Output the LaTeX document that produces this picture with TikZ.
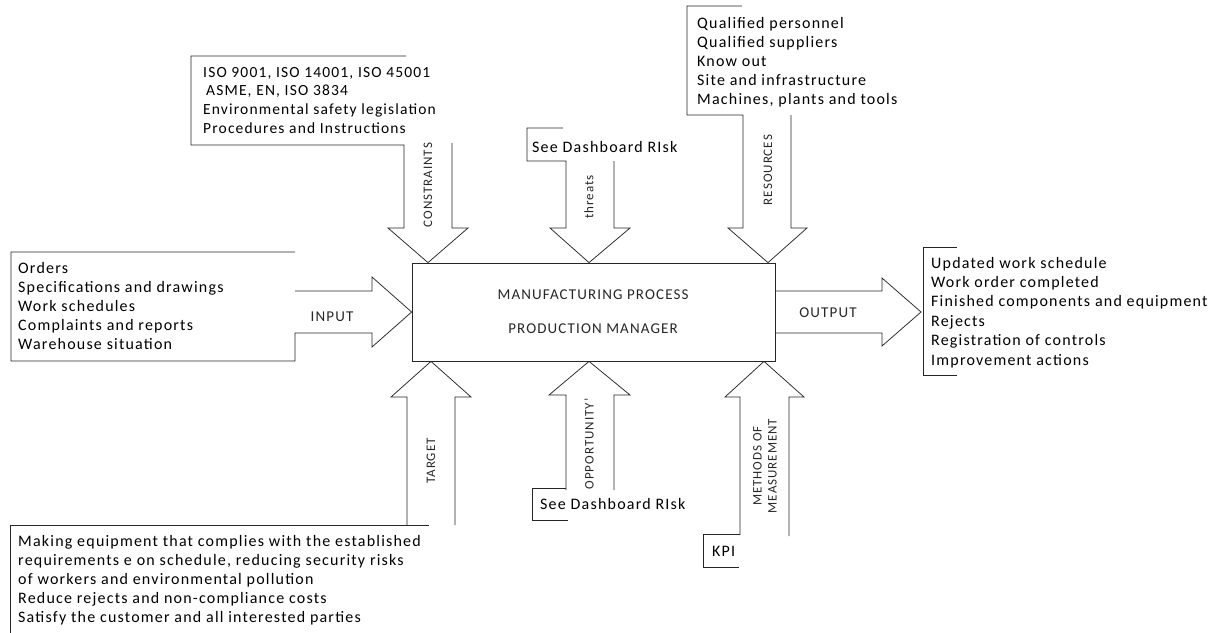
\documentclass[tikz,border=0pt]{standalone}
\usepackage{fontspec}
\setmainfont{Carlito}[LetterSpace=7.5]
\begin{document}
\begin{tikzpicture}[x=1pt,y=-1pt,
  edge/.style={draw=black!85, line width=0.75pt, line join=miter},
  bodytext/.style={font=\fontsize{16}{19}\selectfont, anchor=base west, inner sep=0pt},
  capslabel/.style={font=\fontsize{15}{17}\selectfont, inner sep=0pt, text=black!85},
  uplabel/.style={font=\fontsize{13}{15}\selectfont, inner sep=0pt, text=black!85, rotate=90, align=center}]
\useasboundingbox (0,0) rectangle (1225,632);

% central process box
\node[edge, minimum width=363pt, minimum height=98pt, inner sep=0pt] (proc) at (593.5,312) {};
\node[capslabel] (procA) at (593,295) {MANUFACTURING PROCESS};
\node[capslabel] (procB) at (593,329) {PRODUCTION MANAGER};

% ---------- INPUT ----------
\path[edge] (295,252) -- (11,252) -- (11,361) -- (295,361)
  -- (295,333) -- (372,333) -- (372,347) -- (proc.west)
  -- (372,277) -- (372,291) -- (295,291);
\foreach \t [count=\i] in {Orders,Specifications and drawings,Work schedules,Complaints and reports,Warehouse situation}
  \node[bodytext] (inp-\i) at (18,{273+(\i-1)*19.2}) {\t};
\node[capslabel] (inplabel) at (332,317) {INPUT};

% ---------- OUTPUT ----------
\path[edge] (proc.east |- 0,291) -- (882,291) -- (882,278) -- (921,312)
  -- (882,346) -- (882,333) -- (proc.east |- 0,333);
\path[edge] (957,247) -- (923,247) -- (923,375) -- (957,375);
\foreach \t [count=\i] in {Updated work schedule,Work order completed,Finished components and equipment,Rejects,Registration of controls,Improvement actions}
  \node[bodytext] (out-\i) at (931,{268+(\i-1)*19.4}) {\t};
\node[capslabel] (outlabel) at (828,313) {OUTPUT};

% ---------- CONSTRAINTS ----------
\path[edge] (406,56) -- (191,56) -- (191,145) -- (404,145)
  -- (404,228) -- (388,228) -- (proc.north -| 428,0) -- (468,228) -- (452,228) -- (452,143);
\foreach \t [count=\i] in {{ISO 9001, ISO 14001, ISO 45001},{\hspace{3pt}ASME, EN, ISO 3834},{Environmental safety legislation},{Procedures and Instructions}}
  \node[bodytext, font=\fontsize{15.5}{19}\selectfont] (con-\i) at (203,{77+(\i-1)*18.7}) {\t};
\node[uplabel] (conlabel) at (428,185) {CONSTRAINTS};

% ---------- THREATS ----------
\path[edge] (563,128) -- (527,128) -- (527,161) -- (566,161)
  -- (566,228) -- (550,228) -- (proc.north -| 589,0) -- (630,228) -- (614,228) -- (614,161);
\node[bodytext] (thr) at (532,152) {See Dashboard RIsk};
\node[uplabel] (thrlabel) at (589,197) {threats};

% ---------- RESOURCES ----------
\path[edge] (742,6) -- (687,6) -- (687,115) -- (743,115)
  -- (743,228) -- (728,228) -- (proc.north -| 768,0) -- (807,228) -- (791,228) -- (791,115);
\foreach \t [count=\i] in {Qualified personnel,Qualified suppliers,Know out,Site and infrastructure,{Machines, plants and tools}}
  \node[bodytext] (res-\i) at (697,{28+(\i-1)*19}) {\t};
\node[uplabel] (reslabel) at (768,170) {RESOURCES};

% ---------- TARGET ----------
\path[edge] (429,525) -- (10,525) -- (10,640);
\path[edge] (407,525) -- (407,397) -- (391,397) -- (proc.south -| 431,0)
  -- (471,397) -- (455,397) -- (455,525);
\foreach \t [count=\i] in {Making equipment that complies with the established,requirements e on schedule{,} reducing security risks,of workers and environmental pollution,Reduce rejects and non-compliance costs,Satisfy the customer and all interested parties}
  \node[bodytext] (tar-\i) at (18,{546+(\i-1)*19}) {\t};
\node[uplabel] (tarlabel) at (431,461) {TARGET};

% ---------- OPPORTUNITY ----------
\path[edge] (566,490) -- (566,395) -- (549,395) -- (proc.south -| 589,0)
  -- (630,395) -- (614,395) -- (614,490);
\path[edge] (566,488) -- (532,488) -- (532,520) -- (568,520);
\node[bodytext] (opp) at (540,509) {See Dashboard RIsk};
\node[uplabel] (opplabel) at (589,444) {OPPORTUNITY'};

% ---------- METHODS OF MEASUREMENT ----------
\path[edge] (740,535) -- (740,397) -- (725,397) -- (proc.south -| 764,0)
  -- (804,397) -- (789,397) -- (789,536);
\path[edge] (740,534) -- (703,534) -- (703,567) -- (739,567);
\node[bodytext] (kpi) at (712,556) {KPI};
\node[uplabel] (meslabel) at (765,466) {METHODS OF\\MEASUREMENT};
\end{tikzpicture}
\end{document}
